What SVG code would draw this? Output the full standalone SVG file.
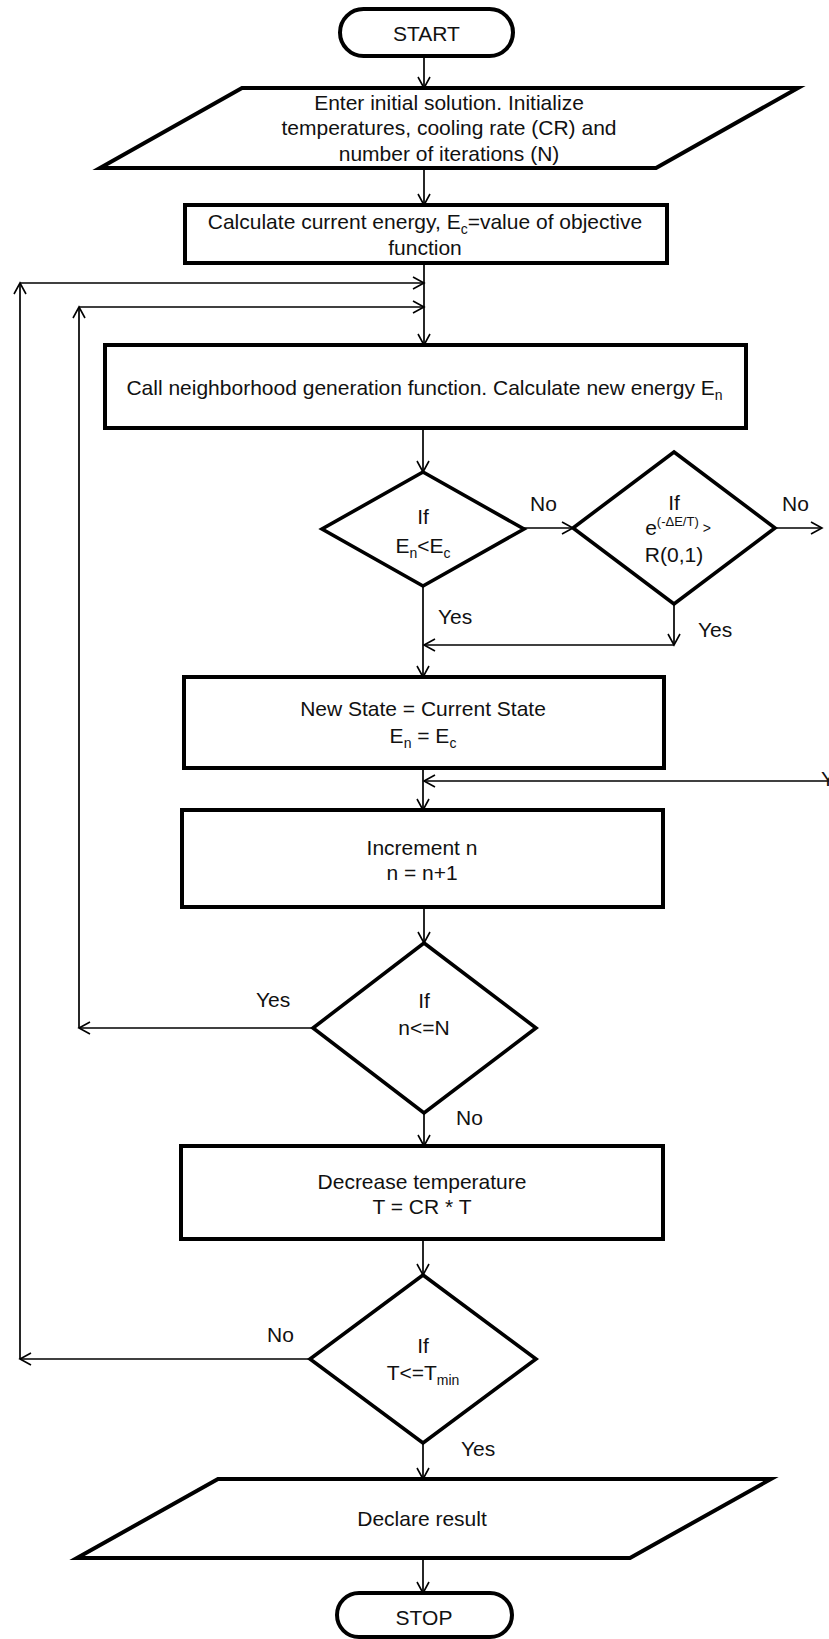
<svg xmlns="http://www.w3.org/2000/svg" width="829" height="1639" viewBox="0 0 829 1639">
<defs>
<marker id="ah" markerUnits="userSpaceOnUse" markerWidth="14" markerHeight="14" refX="11" refY="6" orient="auto" overflow="visible">
<path d="M0,0 L11,6 L0,12" fill="none" stroke="#000" stroke-width="1.6"/>
</marker>
<style>
.box{fill:#fff;stroke:#000;stroke-width:4}
.dia{fill:#fff;stroke:#000;stroke-width:3.6}
.ln{fill:none;stroke:#000;stroke-width:1.7;marker-end:url(#ah)}
text{font-family:"Liberation Sans",Arial,sans-serif;font-size:21px;fill:#111}
.c{text-anchor:middle}
</style>
</defs>
<rect width="829" height="1639" fill="#fff"/>

<g id="connectors">
<path class="ln" d="M424,56 V88"/>
<path class="ln" d="M424,168 V205"/>
<path class="ln" d="M424,263 V345"/>
<path class="ln" d="M310,1359 H20"/>
<path class="ln" d="M20,1359 V283"/>
<path class="ln" d="M20,283 H424"/>
<path class="ln" d="M313,1028 H79"/>
<path class="ln" d="M79,1028 V307"/>
<path class="ln" d="M79,307 H424"/>
<path class="ln" d="M423,428 V472"/>
<path class="ln" d="M524,528 H573"/>
<path class="ln" d="M775,528 H822"/>
<path class="ln" d="M674,604 V645"/>
<path class="ln" d="M674,645 H424"/>
<path class="ln" d="M423,586 V677"/>
<path class="ln" d="M829,781 H424"/>
<path class="ln" d="M423,768 V810"/>
<path class="ln" d="M424,907 V943"/>
<path class="ln" d="M424,1113 V1146"/>
<path class="ln" d="M423,1239 V1275"/>
<path class="ln" d="M423,1443 V1479"/>
<path class="ln" d="M423,1558 V1593"/>
<text x="530" y="511">No</text>
<text x="782" y="511">No</text>
<text x="438" y="624">Yes</text>
<text x="698" y="637">Yes</text>
<text x="821" y="786">Yes</text>
<text x="256" y="1007">Yes</text>
<text x="456" y="1125">No</text>
<text x="267" y="1342">No</text>
<text x="461" y="1456">Yes</text>
</g>

<g id="start">
<rect x="340" y="9" width="173" height="47" rx="23.5" class="box" stroke-width="3.5"/>
<text class="c" x="426.5" y="40.5">START</text>
</g>

<g id="input">
<polygon class="box" points="242,88 798,88 656,168 100,168"/>
<text class="c" x="449" y="110">Enter initial solution. Initialize</text>
<text class="c" x="449" y="135">temperatures, cooling rate (CR) and</text>
<text class="c" x="449" y="161">number of iterations (N)</text>
</g>

<g id="calc">
<rect class="box" x="185" y="205" width="482" height="58"/>
<text class="c" x="425" y="229">Calculate current energy, E<tspan font-size="14" dy="5">c</tspan><tspan dy="-5">=value of objective</tspan></text>
<text class="c" x="425" y="255">function</text>
</g>

<g id="neighbor">
<rect class="box" x="105" y="345" width="641" height="83"/>
<text class="c" x="424.5" y="395">Call neighborhood generation function. Calculate new energy E<tspan font-size="14" dy="5">n</tspan></text>
</g>

<g id="dec1">
<polygon class="dia" points="423,472 524,529 423,586 322,529"/>
<text class="c" x="423" y="524">If</text>
<text class="c" x="423" y="553">E<tspan font-size="14" dy="5">n</tspan><tspan dy="-5">&lt;E</tspan><tspan font-size="14" dy="5">c</tspan></text>
</g>

<g id="dec2">
<polygon class="dia" points="674,452 775,528 674,604 573,528"/>
<text class="c" x="674" y="510">If</text>
<text class="c" x="678" y="535">e<tspan font-size="13" dy="-9">(-ΔE/T)</tspan><tspan font-size="14" dy="7"> &gt;</tspan></text>
<text class="c" x="674" y="562">R(0,1)</text>
</g>

<g id="newstate">
<rect class="box" x="184" y="677" width="480" height="91"/>
<text class="c" x="423" y="716">New State = Current State</text>
<text class="c" x="423" y="743">E<tspan font-size="14" dy="5">n</tspan><tspan dy="-5"> = E</tspan><tspan font-size="14" dy="5">c</tspan></text>
</g>

<g id="increment">
<rect class="box" x="182" y="810" width="481" height="97"/>
<text class="c" x="422" y="855">Increment n</text>
<text class="c" x="422" y="880">n = n+1</text>
</g>

<g id="dec3">
<polygon class="dia" points="424,943 536,1028 424,1113 313,1028"/>
<text class="c" x="424" y="1008">If</text>
<text class="c" x="424" y="1035">n&lt;=N</text>
</g>

<g id="decrease">
<rect class="box" x="181" y="1146" width="482" height="93"/>
<text class="c" x="422" y="1189">Decrease temperature</text>
<text class="c" x="422" y="1214">T = CR * T</text>
</g>

<g id="dec4">
<polygon class="dia" points="423,1275 536,1359 423,1443 310,1359"/>
<text class="c" x="423" y="1353">If</text>
<text class="c" x="423" y="1380">T&lt;=T<tspan font-size="14" dy="5">min</tspan></text>
</g>

<g id="declare">
<polygon class="box" points="218,1479 771,1479 630,1558 77,1558"/>
<text class="c" x="422" y="1526">Declare result</text>
</g>

<g id="stop">
<rect x="337" y="1593" width="175" height="44" rx="22" class="box" stroke-width="3.5"/>
<text class="c" x="424" y="1625">STOP</text>
</g>
</svg>
